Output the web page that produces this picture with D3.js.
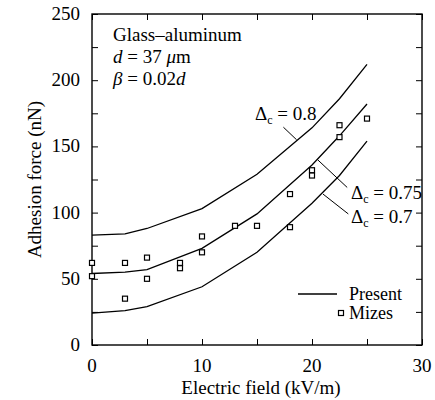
<!DOCTYPE html>
<html>
<head>
<meta charset="utf-8">
<script src="https://cdn.jsdelivr.net/npm/d3@7"></script>
<style>
  html, body { margin: 0; padding: 0; background: #fff; }
  svg { display: block; }
  text { font-family: "Liberation Serif", "Times New Roman", serif; fill: #000; }
</style>
</head>
<body>
<div id="chart"></div>
<script>
// ---- data ----
const curveX = [0, 3, 5, 10, 15, 20, 22.5, 25];
const curve08 = [83, 84, 88, 103, 129, 164, 186, 212];
const curve075 = [54, 55, 57, 73, 99, 136, 158, 182];
const curve07 = [24, 26, 29, 44, 70, 107, 128, 154];
const mizesX = [0, 0, 3, 3, 5, 5, 8, 8, 10, 10, 13, 15, 18, 18, 20, 20, 22.5, 22.5, 25];
const mizesY = [62, 52, 62, 35, 66, 50, 62, 58, 82, 70, 90, 90, 89, 114, 132, 128, 166, 157, 171];
const xTicks = [0, 10, 20, 30];
const yTicks = [0, 50, 100, 150, 200, 250];
const xMinor = [0, 5, 10, 15, 20, 25, 30];
const yMinor = [0, 25, 50, 75, 100, 125, 150, 175, 200, 225, 250];

const W = 435, H = 400;
const L = 92, R = 422, T = 14, B = 345;

const svg = d3.select("#chart").append("svg").attr("width", W).attr("height", H);

const x = d3.scaleLinear().domain([0, 30]).range([L, R]);
const y = d3.scaleLinear().domain([0, 250]).range([B, T]);

const fs = 19;

// frame
svg.append("rect").attr("x", L).attr("y", T).attr("width", R - L).attr("height", B - T)
  .attr("fill", "none").attr("stroke", "#000").attr("stroke-width", 1.4);

// axes with inward ticks
const ax = svg.append("g");
ax.append("g").attr("transform", `translate(0,${B})`)
  .call(d3.axisBottom(x).tickValues(xMinor).tickSize(-6).tickFormat(""))
  .call(g => g.select(".domain").remove());
ax.append("g").attr("transform", `translate(0,${T})`)
  .call(d3.axisTop(x).tickValues(xMinor).tickSize(-6).tickFormat(""))
  .call(g => g.select(".domain").remove());
ax.append("g").attr("transform", `translate(${L},0)`)
  .call(d3.axisLeft(y).tickValues(yMinor).tickSize(-6).tickFormat(""))
  .call(g => g.select(".domain").remove());
ax.append("g").attr("transform", `translate(${R},0)`)
  .call(d3.axisRight(y).tickValues(yMinor).tickSize(-6).tickFormat(""))
  .call(g => g.select(".domain").remove());
ax.selectAll(".tick line").attr("stroke", "#000").attr("stroke-width", 1);

// tick labels
svg.append("g").selectAll("text").data(xTicks).join("text")
  .attr("x", d => x(d)).attr("y", B + 27).attr("text-anchor", "middle")
  .attr("font-size", fs).text(d => d);
svg.append("g").selectAll("text").data(yTicks).join("text")
  .attr("x", L - 12).attr("y", d => y(d) + 6).attr("text-anchor", "end")
  .attr("font-size", fs).text(d => d);

// axis titles
svg.append("text").attr("x", (L + R) / 2 + 4).attr("y", 394).attr("text-anchor", "middle")
  .attr("font-size", fs).text("Electric field (kV/m)");
svg.append("text").attr("transform", `translate(41,${(T + B) / 2}) rotate(-90)`)
  .attr("text-anchor", "middle").attr("font-size", fs).text("Adhesion force (nN)");

// curves
const line = d3.line().x((d, i) => x(curveX[i])).y(d => y(d));
[curve08, curve075, curve07].forEach(c => {
  svg.append("path").datum(c).attr("d", line)
    .attr("fill", "none").attr("stroke", "#000").attr("stroke-width", 1.3);
});

// Mizes points
const sq = 5;
svg.append("g").selectAll("rect").data(mizesX).join("rect")
  .attr("x", (d, i) => x(d) - sq / 2).attr("y", (d, i) => y(mizesY[i]) - sq / 2)
  .attr("width", sq).attr("height", sq)
  .attr("fill", "#fff").attr("stroke", "#000").attr("stroke-width", 1.2);

// annotation text
const ann = svg.append("g").attr("font-size", fs);
ann.append("text").attr("x", 113).attr("y", 41).text("Glass\u2013aluminum");
const t2 = ann.append("text").attr("x", 113).attr("y", 63);
t2.append("tspan").attr("font-style", "italic").text("d");
t2.append("tspan").text(" = 37 ");
t2.append("tspan").attr("font-style", "italic").text("\u03bc");
t2.append("tspan").text("m");
const t3 = ann.append("text").attr("x", 113).attr("y", 85);
t3.append("tspan").attr("font-style", "italic").text("\u03b2");
t3.append("tspan").text(" = 0.02");
t3.append("tspan").attr("font-style", "italic").text("d");

// delta labels
function deltaLabel(px, py, val) {
  const t = ann.append("text").attr("x", px).attr("y", py);
  t.append("tspan").text("\u0394");
  t.append("tspan").attr("font-size", 12).attr("dy", 4).text("c");
  t.append("tspan").attr("dy", -4).text(" = " + val);
}
deltaLabel(255, 120, "0.8");
deltaLabel(351, 199, "0.75");
deltaLabel(351, 223, "0.7");

// leader lines (start at points on curves, given in data coords)
const leaders = [
  [[18.6, 155], [17.4, 164.5]],
  [[20.5, 140], [23.2, 119]],
  [[21, 114], [23.3, 99]]
];
svg.append("g").selectAll("line").data(leaders).join("line")
  .attr("x1", d => x(d[0][0])).attr("y1", d => y(d[0][1]))
  .attr("x2", d => x(d[1][0])).attr("y2", d => y(d[1][1]))
  .attr("stroke", "#000").attr("stroke-width", 1);

// legend
const lg = svg.append("g").attr("font-size", 18);
lg.append("line").attr("x1", 298).attr("x2", 337).attr("y1", 294).attr("y2", 294)
  .attr("stroke", "#000").attr("stroke-width", 1.3);
lg.append("text").attr("x", 349).attr("y", 300).text("Present");
lg.append("rect").attr("x", 341 - sq / 2).attr("y", 313 - sq / 2).attr("width", sq).attr("height", sq)
  .attr("fill", "#fff").attr("stroke", "#000").attr("stroke-width", 1.2);
lg.append("text").attr("x", 349).attr("y", 319).text("Mizes");
</script>
</body>
</html>
